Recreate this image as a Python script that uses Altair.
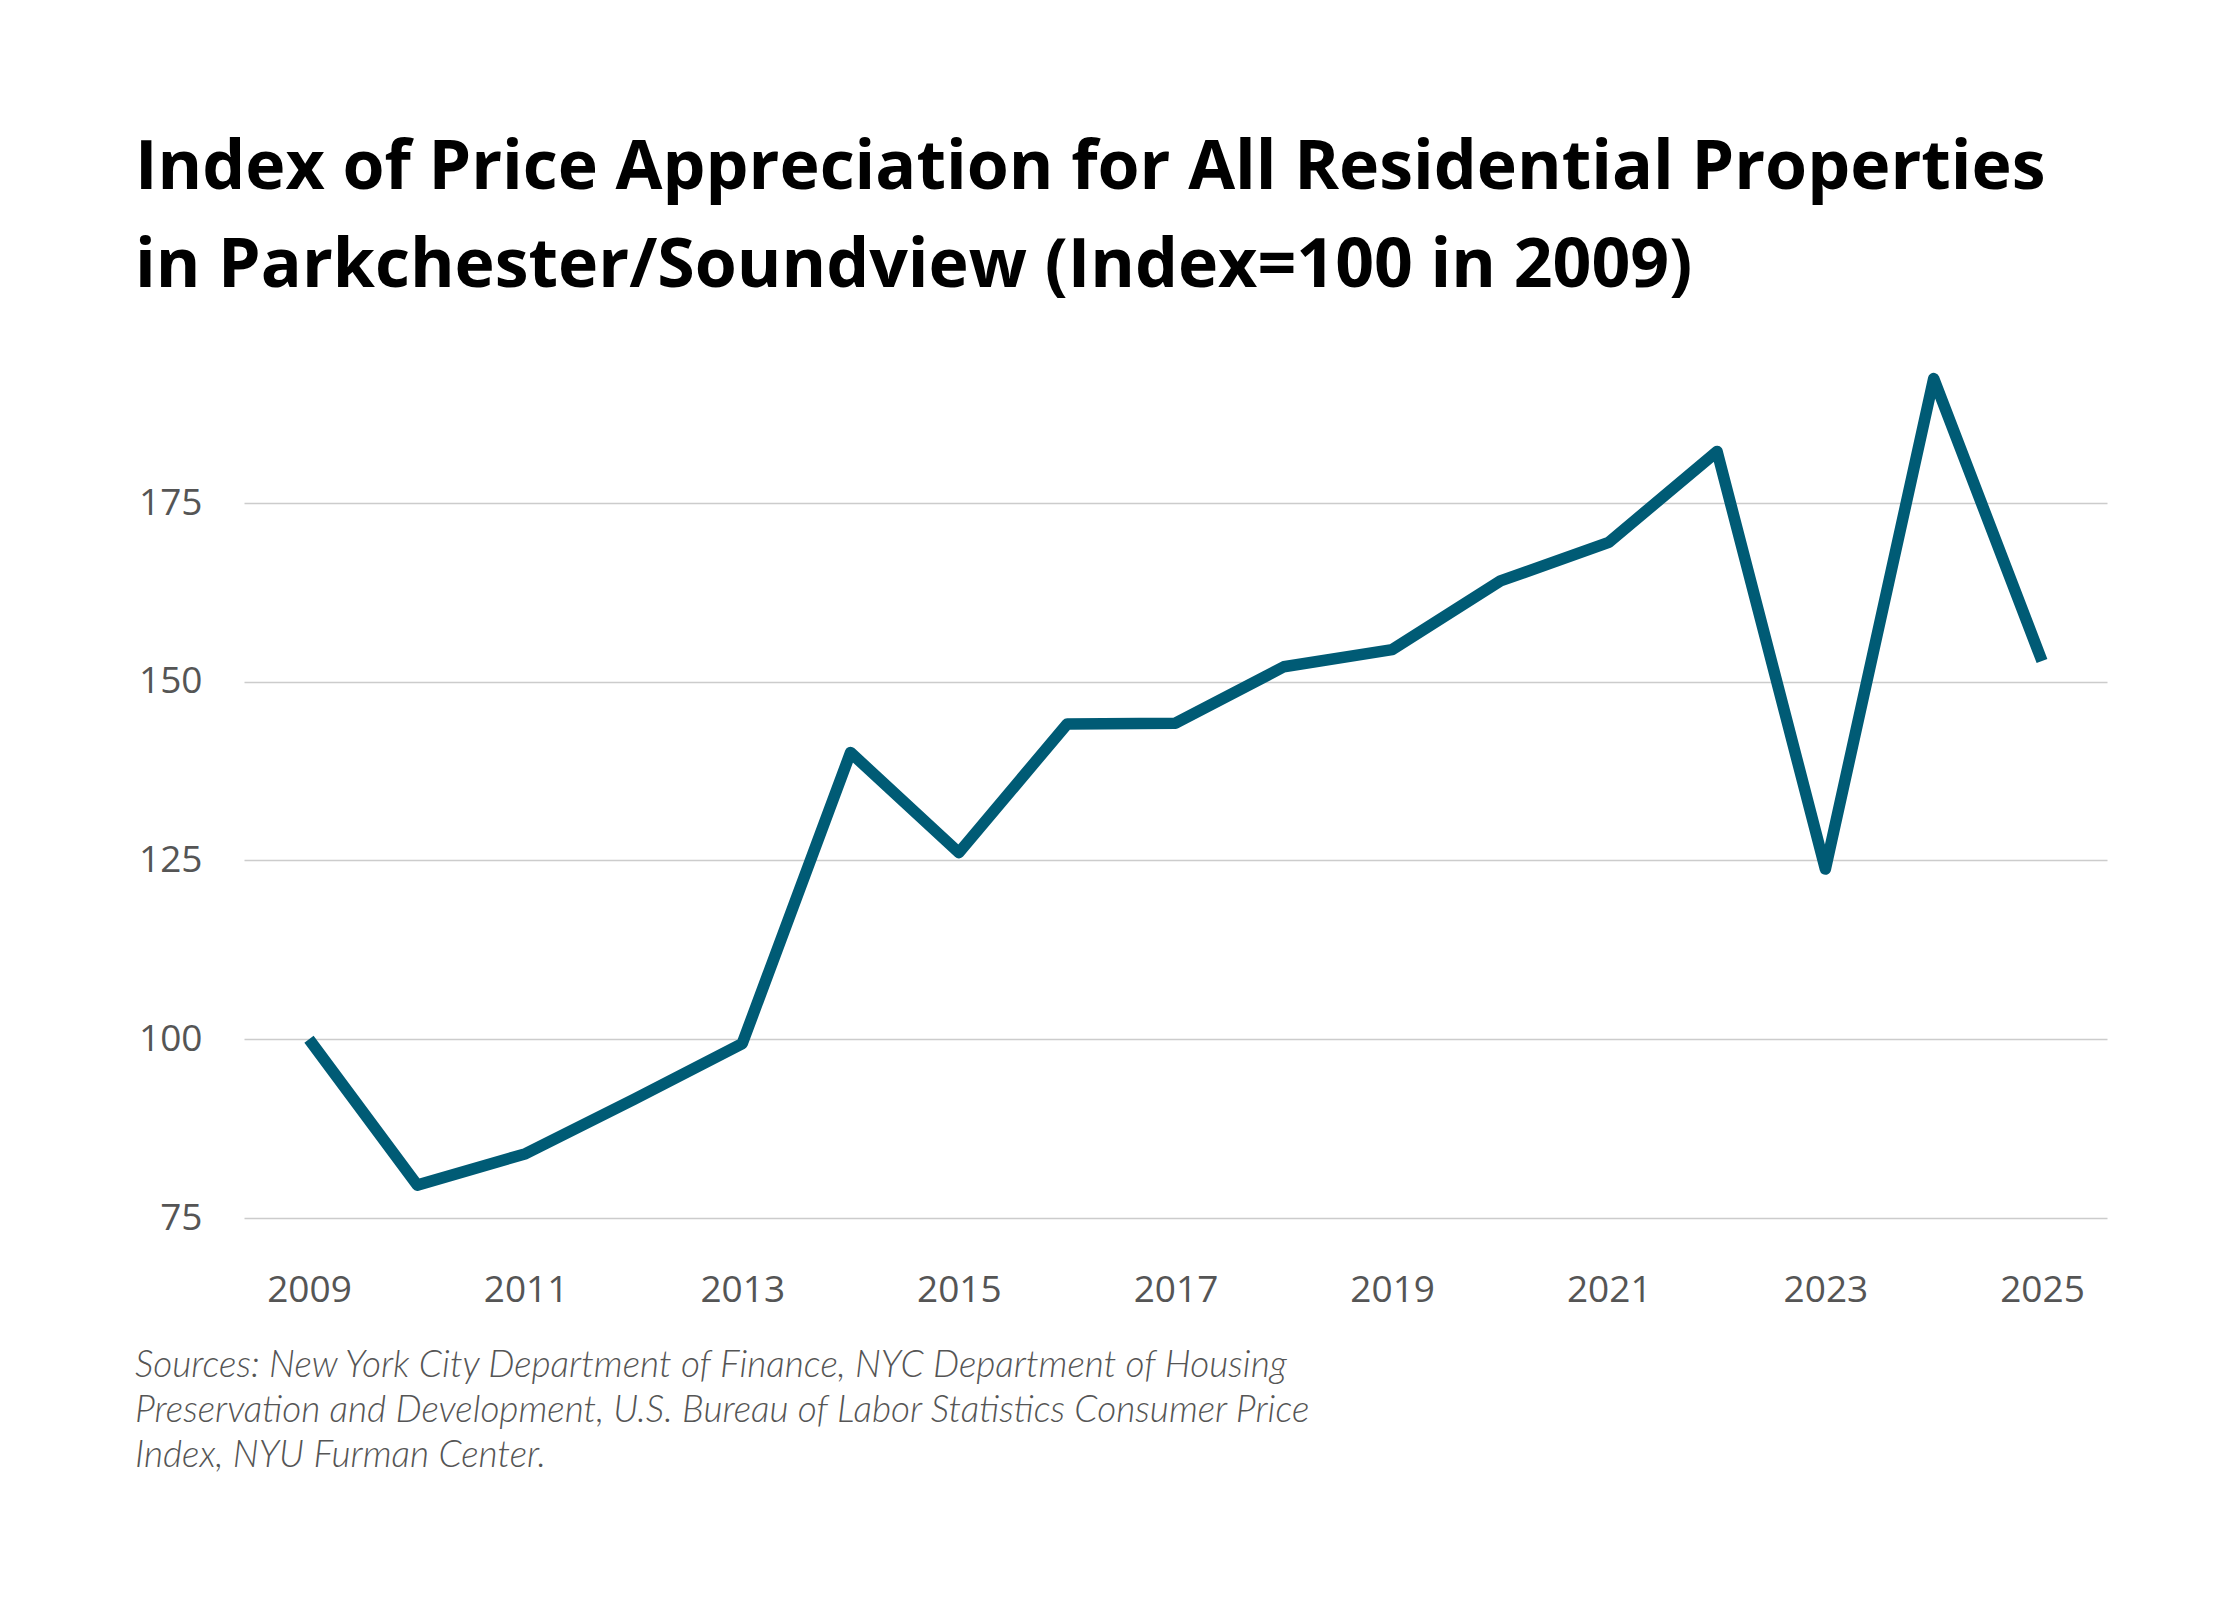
import altair as alt
import pandas as pd

years = list(range(2009, 2026))
index_values = [100.0, 79.6, 84.0, 91.6, 99.4, 140.1, 126.1, 144.1, 144.2,
                152.1, 154.5, 164.1, 169.5, 182.2, 123.8, 192.4, 152.9]
x_ticks = [2009, 2011, 2013, 2015, 2017, 2019, 2021, 2023, 2025]
y_ticks = [75, 100, 125, 150, 175]
title_lines = ["Index of Price Appreciation for All Residential Properties",
               "in Parkchester/Soundview (Index=100 in 2009)"]
source_lines = ["Sources: New York City Department of Finance, NYC Department of Housing",
                "Preservation and Development, U.S. Bureau of Labor Statistics Consumer Price",
                "Index, NYU Furman Center."]

df = pd.DataFrame({"year": years, "value": index_values})

W, H = 1863, 858

line = alt.Chart(df).mark_line(
    color="#005B75", strokeWidth=11.5, strokeCap="butt", strokeJoin="round"
).encode(
    x=alt.X("year:Q",
            scale=alt.Scale(domain=[2008.4, 2025.6], nice=False, zero=False),
            axis=alt.Axis(values=x_ticks, format="d", title=None, grid=False,
                          domain=False, ticks=False, labelPadding=54,
                          labelFont="Open Sans", labelFontSize=37,
                          labelColor="#555555")),
    y=alt.Y("value:Q",
            scale=alt.Scale(domain=[75, 195], nice=False, zero=False),
            axis=alt.Axis(values=y_ticks, title=None, grid=True,
                          gridColor="#cccccc", gridWidth=1.6,
                          domain=False, ticks=False, labelPadding=42,
                          labelFont="Open Sans", labelFontSize=37,
                          labelColor="#555555")),
)

src_df = pd.DataFrame({"k": [0]})
sources = alt.Chart(src_df).mark_text(
    align="left", baseline="alphabetic", font="Lato", fontStyle="italic",
    fontWeight=300, fontSize=37, lineHeight=45, color="#555555"
).encode(
    x=alt.value(-109), y=alt.value(1017), text=alt.value(source_lines)
)

chart = alt.layer(line, sources).properties(
    width=W, height=H,
    background="white",
    autosize=alt.AutoSizeParams(type="none"),
    padding={"left": 236, "top": 352, "right": 125, "bottom": 374},
    title=alt.TitleParams(text=title_lines, anchor="start", frame="group",
                          dx=-109, offset=59, font="Open Sans", fontWeight="bold",
                          fontSize=68, lineHeight=98, color="#000000"),
).configure_view(strokeWidth=0, stroke="transparent")

chart.save("out.html", embed_options={"renderer": "svg", "actions": False})
